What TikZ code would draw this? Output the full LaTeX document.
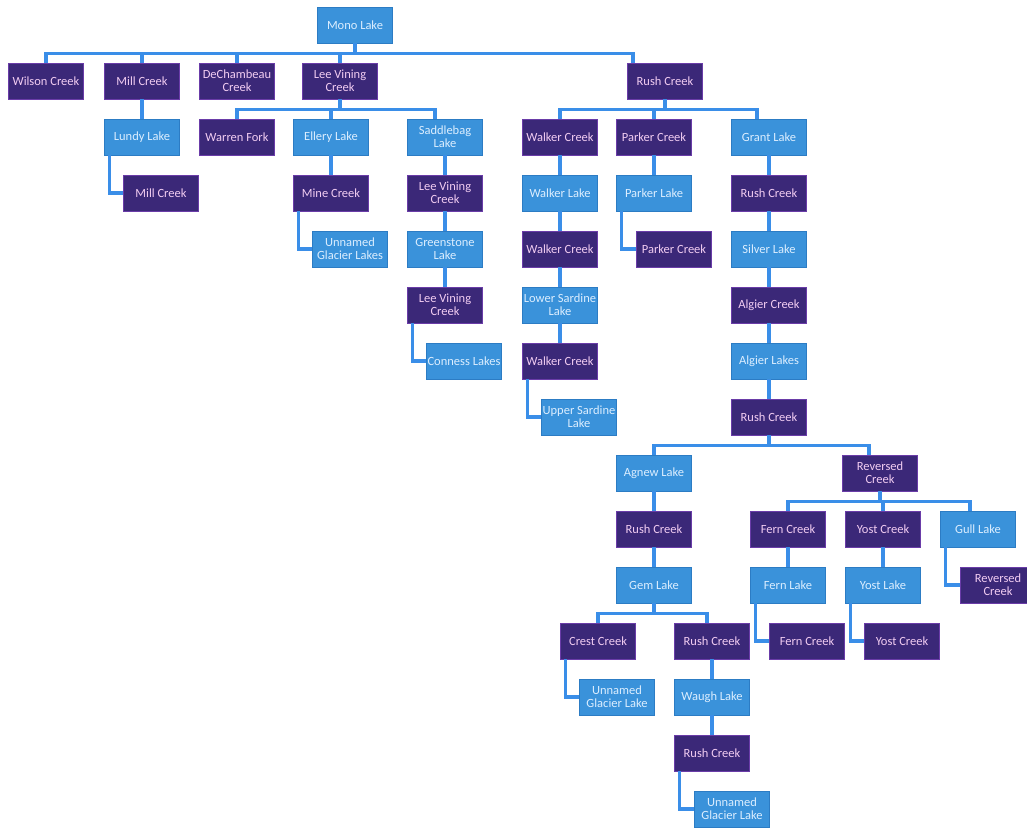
\documentclass[tikz,border=0pt]{standalone}
\usepackage{fontspec}
\setmainfont{Carlito}
\definecolor{darkfill}{HTML}{3B2878}
\definecolor{darkdraw}{HTML}{6A3CA8}
\definecolor{darktext}{HTML}{F2CDF2}
\definecolor{lightfill}{HTML}{3A92DA}
\definecolor{lightdraw}{HTML}{2C7CC4}
\definecolor{lighttext}{HTML}{DCEEFF}
\definecolor{linkcol}{HTML}{3A8EE8}
\tikzset{
  box/.style={rectangle, minimum width=75pt, minimum height=36pt, inner sep=1pt,
    align=center, font=\fontsize{12.5}{13}\selectfont, line width=0.8pt},
  dk/.style={box, fill=darkfill, draw=darkdraw, text=darktext},
  lt/.style={box, fill=lightfill, draw=lightdraw, text=lighttext},
  link/.style={draw=linkcol, line width=3.2pt},
}
\begin{document}
\begin{tikzpicture}[x=1pt,y=-1pt]
\useasboundingbox[fill=white] (0,0) rectangle (1027,831);
% row 0
\node[lt] (mono) at (355,25) {Mono Lake};
% row 1
\node[dk] (wilson) at (46,81) {Wilson Creek};
\node[dk] (mill1) at (142,81) {Mill Creek};
\node[dk] (dech) at (237,81) {DeChambeau\\Creek};
\node[dk] (lvc1) at (340,81) {Lee Vining\\Creek};
\node[dk] (rush1) at (665,81) {Rush Creek};
% row 2
\node[lt] (lundy) at (142,137) {Lundy Lake};
\node[dk] (warren) at (237,137) {Warren Fork};
\node[lt] (ellery) at (331,137) {Ellery Lake};
\node[lt] (saddle) at (445,137) {Saddlebag\\Lake};
\node[dk] (walkc1) at (560,137) {Walker Creek};
\node[dk] (parkc1) at (654,137) {Parker Creek};
\node[lt] (grant) at (769,137) {Grant Lake};
% row 3
\node[dk] (mill2) at (161,193) {Mill Creek};
\node[dk] (mine) at (331,193) {Mine Creek};
\node[dk] (lvc2) at (445,193) {Lee Vining\\Creek};
\node[lt] (walkl) at (560,193) {Walker Lake};
\node[lt] (parkl) at (654,193) {Parker Lake};
\node[dk] (rush2) at (769,193) {Rush Creek};
% row 4
\node[lt] (ugl1) at (350,249) {Unnamed\\Glacier Lakes};
\node[lt] (green) at (445,249) {Greenstone\\Lake};
\node[dk] (walkc2) at (560,249) {Walker Creek};
\node[dk] (parkc2) at (674,249) {Parker Creek};
\node[lt] (silver) at (769,249) {Silver Lake};
% row 5
\node[dk] (lvc3) at (445,305) {Lee Vining\\Creek};
\node[lt] (lsard) at (560,305) {Lower Sardine\\Lake};
\node[dk] (algc) at (769,305) {Algier Creek};
% row 6
\node[lt] (conness) at (464,361) {Conness Lakes};
\node[dk] (walkc3) at (560,361) {Walker Creek};
\node[lt] (algl) at (769,361) {Algier Lakes};
% row 7
\node[lt] (usard) at (579,417) {Upper Sardine\\Lake};
\node[dk] (rush3) at (769,417) {Rush Creek};
% row 8
\node[lt] (agnew) at (654,473) {Agnew Lake};
\node[dk] (rev1) at (880,473) {Reversed\\Creek};
% row 9
\node[dk] (rush4) at (654,529) {Rush Creek};
\node[dk] (fernc1) at (788,529) {Fern Creek};
\node[dk] (yostc1) at (883,529) {Yost Creek};
\node[lt] (gull) at (978,529) {Gull Lake};
% row 10
\node[lt] (gem) at (654,585) {Gem Lake};
\node[lt] (fernl) at (788,585) {Fern Lake};
\node[lt] (yostl) at (883,585) {Yost Lake};
\node[dk] (rev2) at (998,585) {Reversed\\Creek};
% row 11
\node[dk] (crest) at (598,641) {Crest Creek};
\node[dk] (rush5) at (712,641) {Rush Creek};
\node[dk] (fernc2) at (807,641) {Fern Creek};
\node[dk] (yostc2) at (902,641) {Yost Creek};
% row 12
\node[lt] (ugl2) at (617,697) {Unnamed\\Glacier Lake};
\node[lt] (waugh) at (712,697) {Waugh Lake};
% row 13
\node[dk] (rush6) at (712,753) {Rush Creek};
% row 14
\node[lt] (ugl3) at (732,809) {Unnamed\\Glacier Lake};

% bus connectors
\foreach \c/\dx in {wilson/0, mill1/0, dech/0, lvc1/0, rush1/-32}
  \draw[link] (mono.south) -- ++(0,10) -| ([xshift=\dx]\c.north);
\foreach \c/\dx in {warren/0, ellery/0, saddle/-10}
  \draw[link] (lvc1.south) -- ++(0,10) -| ([xshift=\dx]\c.north);
\foreach \c/\dx in {walkc1/0, parkc1/0, grant/-12}
  \draw[link] (rush1.south) -- ++(0,10) -| ([xshift=\dx]\c.north);
\foreach \c/\dx in {agnew/0, rev1/-11}
  \draw[link] (rush3.south) -- ++(0,10) -| ([xshift=\dx]\c.north);
\foreach \c/\dx in {fernc1/0, yostc1/0, gull/-8}
  \draw[link] (rev1.south) -- ++(0,10) -| ([xshift=\dx]\c.north);
\foreach \c/\dx in {crest/0, rush5/-5}
  \draw[link] (gem.south) -- ++(0,10) -| ([xshift=\dx]\c.north);

% straight connectors
\foreach \a/\b in {mill1/lundy, ellery/mine, saddle/lvc2, lvc2/green, green/lvc3,
  walkc1/walkl, walkl/walkc2, walkc2/lsard, lsard/walkc3, parkc1/parkl,
  grant/rush2, rush2/silver, silver/algc, algc/algl, algl/rush3,
  agnew/rush4, rush4/gem, rush5/waugh, waugh/rush6, fernc1/fernl, yostc1/yostl}
  \draw[link] (\a.south) -- (\b.north);

% elbow connectors
\foreach \a/\b in {lundy/mill2, mine/ugl1, lvc3/conness, walkc3/usard, parkl/parkc2,
  crest/ugl2, rush6/ugl3, fernl/fernc2, yostl/yostc2, gull/rev2}
  \draw[link] ([xshift=5]\a.south west) |- (\b.west);
\end{tikzpicture}
\end{document}
